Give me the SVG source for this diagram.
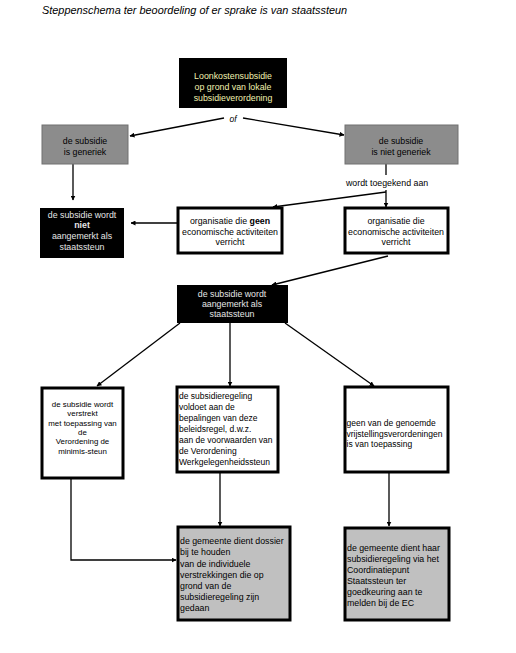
<svg xmlns="http://www.w3.org/2000/svg" width="516" height="653" viewBox="0 0 516 653">
<style>
text{font-family:"Liberation Sans",Arial,sans-serif;font-size:8.8px}
.c{text-anchor:middle}
.s{font-size:7.9px}
.m{font-size:8.5px}
.blk{fill:#000}
.bt{fill:#e6e6e6}
.yt{fill:#f2f2b0}
.gr{fill:#8c8c8c;stroke:#707070;stroke-width:1}
.wb{fill:#fff;stroke:#000;stroke-width:3}
.lg{fill:#c0c0c0;stroke:#000;stroke-width:3}
.ln{stroke:#000;stroke-width:1.3;fill:none}
</style>
<defs>
<marker id="ah" viewBox="0 0 10 10" refX="9" refY="5" markerWidth="5" markerHeight="5" orient="auto" markerUnits="userSpaceOnUse">
<path d="M0,0 L10,5 L0,10 z" fill="#000"/>
</marker>
</defs>
<rect width="516" height="653" fill="#fff"/>
<text x="42" y="14" style="font-style:italic;font-size:10.9px">Steppenschema ter beoordeling of er sprake is van staatssteun</text>

<g id="connectors">
<text x="233" y="122" class="c" style="font-style:italic;font-size:8.5px">of</text>
<path class="ln" d="M224,118 L130,136" marker-end="url(#ah)"/>
<path class="ln" d="M243,118 L344,135" marker-end="url(#ah)"/>
<path class="ln" d="M73,164 L73,200" marker-end="url(#ah)"/>
<path class="ln" d="M386,164 L386,175"/>
<text x="346" y="186">wordt toegekend aan</text>
<path class="ln" d="M386,190 L386,207" marker-end="url(#ah)"/>
<path class="ln" d="M386,192 L273,207" marker-end="url(#ah)"/>
<path class="ln" d="M178,223 L131,223" marker-end="url(#ah)"/>
<path class="ln" d="M388,256 L272,285" marker-end="url(#ah)"/>
<path class="ln" d="M180,323 L97,386" marker-end="url(#ah)"/>
<path class="ln" d="M230,323 L230,386" marker-end="url(#ah)"/>
<path class="ln" d="M285,323 L374,386" marker-end="url(#ah)"/>
<path class="ln" d="M71,479 L71,560 L176,560" marker-end="url(#ah)"/>
<path class="ln" d="M220,473 L220,526" marker-end="url(#ah)"/>
<path class="ln" d="M389,473 L389,526" marker-end="url(#ah)"/>
</g>

<g id="n-top">
<rect x="179" y="58" width="108" height="50" class="blk"/>
<text class="c yt" x="233" y="79">Loonkostensubsidie</text>
<text class="c yt" x="233" y="90">op grond van lokale</text>
<text class="c yt" x="233" y="101">subsidieverordening</text>
</g>
<g id="n-generiek">
<rect x="42" y="125" width="86" height="39" class="gr"/>
<text class="c" x="85" y="144">de subsidie</text>
<text class="c" x="85" y="155">is generiek</text>
</g>
<g id="n-nietgeneriek">
<rect x="345" y="125" width="113" height="39" class="gr"/>
<text class="c" x="401" y="144">de subsidie</text>
<text class="c" x="401" y="155">is niet generiek</text>
</g>
<g id="n-nietstaatssteun">
<rect x="40" y="208" width="84" height="50" class="blk"/>
<text class="c bt" x="82" y="218">de subsidie wordt</text>
<text class="c bt" x="82" y="228" font-weight="bold">niet</text>
<text class="c bt" x="82" y="239">aangemerkt als</text>
<text class="c bt" x="82" y="250">staatssteun</text>
</g>
<g id="n-geen">
<rect x="178" y="208" width="104" height="45" class="wb"/>
<text class="c" x="230" y="224">organisatie die <tspan font-weight="bold">geen</tspan></text>
<text class="c" x="230" y="235">economische activiteiten</text>
<text class="c" x="230" y="245">verricht</text>
</g>
<g id="n-wel">
<rect x="345" y="208" width="103" height="45" class="wb"/>
<text class="c" x="396" y="224">organisatie die</text>
<text class="c" x="396" y="235">economische activiteiten</text>
<text class="c" x="396" y="245">verricht</text>
</g>
<g id="n-staatssteun">
<rect x="177" y="285" width="111" height="38" class="blk"/>
<text class="c bt" x="232" y="297">de subsidie wordt</text>
<text class="c bt" x="232" y="307">aangemerkt als</text>
<text class="c bt" x="232" y="317">staatssteun</text>
</g>
<g id="n-deminimis">
<rect x="42" y="388" width="81" height="90" class="wb"/>
<text class="c s" x="82.5" y="407">de subsidie wordt</text>
<text class="c s" x="82.5" y="416">verstrekt</text>
<text class="c s" x="82.5" y="426">met toepassing van</text>
<text class="c s" x="82.5" y="435">de</text>
<text class="c s" x="82.5" y="444">Verordening de</text>
<text class="c s" x="82.5" y="454">minimis-steun</text>
</g>
<g id="n-werkgelegenheid">
<rect x="177" y="387" width="101" height="85" class="wb"/>
<text class="m" x="179" y="399">de subsidieregeling</text>
<text class="m" x="179" y="410">voldoet aan de</text>
<text class="m" x="179" y="421">bepalingen van deze</text>
<text class="m" x="179" y="432">beleidsregel, d.w.z.</text>
<text class="m" x="179" y="443">aan de voorwaarden van</text>
<text class="m" x="179" y="454">de Verordening</text>
<text class="m" x="179" y="465">Werkgelegenheidssteun</text>
</g>
<g id="n-geenvrijstelling">
<rect x="345" y="387" width="103" height="85" class="wb"/>
<text class="m" x="346.5" y="426">geen van de genoemde</text>
<text class="m" x="346.5" y="437">vrijstellingsverordeningen</text>
<text class="m" x="346.5" y="447">is van toepassing</text>
</g>
<g id="n-dossier">
<rect x="178" y="527" width="112" height="93" class="lg"/>
<text x="180" y="544">de gemeente dient dossier</text>
<text x="180" y="555">bij te houden</text>
<text x="180" y="567">van de individuele</text>
<text x="180" y="578">verstrekkingen die op</text>
<text x="180" y="589">grond van de</text>
<text x="180" y="600">subsidieregeling zijn</text>
<text x="180" y="611">gedaan</text>
</g>
<g id="n-melden">
<rect x="345" y="528" width="104" height="92" class="lg"/>
<text x="347" y="551">de gemeente dient haar</text>
<text x="347" y="562">subsidieregeling via het</text>
<text x="347" y="573">Coordinatiepunt</text>
<text x="347" y="584">Staatssteun ter</text>
<text x="347" y="595">goedkeuring aan te</text>
<text x="347" y="606">melden bij de EC</text>
</g>
</svg>
